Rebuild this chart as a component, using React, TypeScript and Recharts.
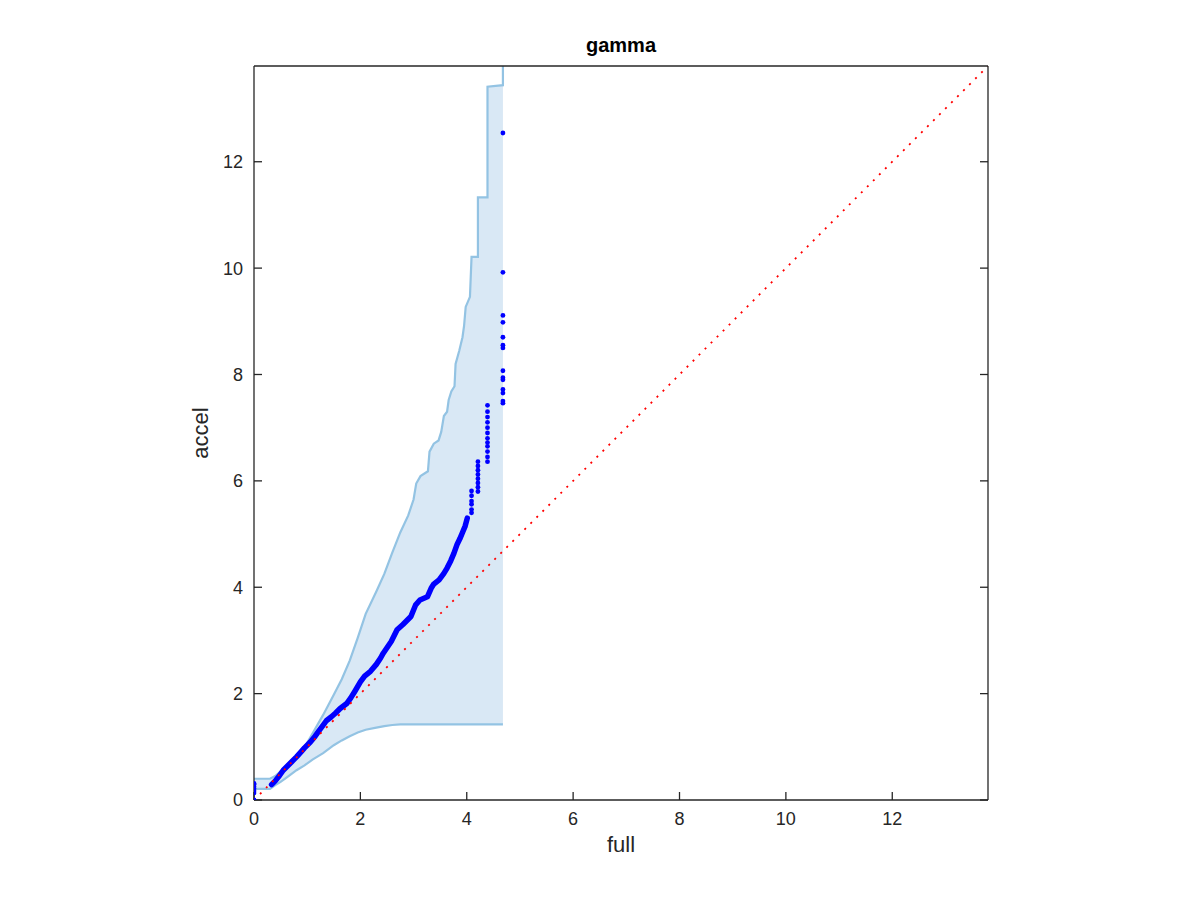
import { ComposedChart, Area, Line, Scatter, XAxis, YAxis } from 'recharts';

const AXIS_MAX = 13.8;
const TICKS = [0, 2, 4, 6, 8, 10, 12];

// confidence band (x, lower bound, upper bound)
const bandX = [
  0, 0.3, 0.4, 0.5, 0.65, 0.8, 0.95, 1.1, 1.3, 1.5, 1.65, 1.8, 1.95, 2.1, 2.3, 2.45, 2.6, 2.75,
  2.9, 3.0, 3.05, 3.13, 3.27, 3.3, 3.38, 3.47, 3.52, 3.57, 3.63, 3.66, 3.71, 3.77, 3.79, 3.86,
  3.92, 3.95, 3.98, 4.06, 4.09, 4.21, 4.21, 4.39, 4.39, 4.68, 4.68,
];
const bandLo = [
  0.21, 0.21, 0.28, 0.34, 0.45, 0.56, 0.65, 0.76, 0.88, 1.03, 1.12, 1.2, 1.27, 1.32, 1.36, 1.39,
  1.41, 1.42, 1.42, 1.42, 1.42, 1.42, 1.42, 1.42, 1.42, 1.42, 1.42, 1.42, 1.42, 1.42, 1.42, 1.42,
  1.42, 1.42, 1.42, 1.42, 1.42, 1.42, 1.42, 1.42, 1.42, 1.42, 1.42, 1.42, 1.42,
];
const bandHi = [
  0.4, 0.4, 0.45, 0.54, 0.66, 0.8, 0.99, 1.25, 1.6, 1.98, 2.27, 2.62, 3.05, 3.5, 3.92, 4.25,
  4.65, 5.03, 5.35, 5.65, 5.95, 6.09, 6.18, 6.55, 6.7, 6.76, 6.92, 7.22, 7.3, 7.52, 7.68, 7.78,
  8.2, 8.45, 8.7, 8.92, 9.27, 9.46, 10.21, 10.21, 11.33, 11.33, 13.41, 13.44, 13.8,
];

// dense part of the quantile curve
const curveX = [
  0.33, 0.4, 0.48, 0.55, 0.62, 0.7, 0.8, 0.88, 0.95, 1.06, 1.15, 1.22, 1.28, 1.36, 1.45, 1.53,
  1.62, 1.75, 1.82, 1.9, 2.0, 2.08, 2.19, 2.3, 2.38, 2.43, 2.58, 2.69, 2.8, 2.95, 3.04, 3.12,
  3.26, 3.33, 3.38, 3.48, 3.57, 3.63, 3.7, 3.76, 3.82, 3.87, 3.92, 3.97, 4.01,
];
const curveY = [
  0.29, 0.36, 0.46, 0.56, 0.63, 0.71, 0.81, 0.9, 0.98, 1.09, 1.2, 1.3, 1.38, 1.49, 1.56, 1.63,
  1.72, 1.82, 1.92, 2.05, 2.22, 2.33, 2.42, 2.55, 2.67, 2.76, 2.98, 3.2, 3.3, 3.45, 3.67, 3.76,
  3.82, 3.98, 4.06, 4.14, 4.26, 4.36, 4.5, 4.64, 4.81, 4.91, 5.03, 5.15, 5.3,
];

// tied quantiles stacked at one x
const stacks = [
  { x: 0, ys: [0, 0.13, 0.17, 0.21, 0.25, 0.29, 0.31] },
  { x: 4.09, ys: [5.4, 5.46, 5.56, 5.62, 5.72, 5.81] },
  { x: 4.21, ys: [5.8, 5.88, 5.96, 6.04, 6.12, 6.2, 6.28, 6.36] },
  { x: 4.39, ys: [6.36, 6.45, 6.55, 6.65, 6.72, 6.8, 6.9, 7.0, 7.1, 7.2, 7.3, 7.42] },
  { x: 4.68, ys: [7.46, 7.5, 7.65, 7.72, 7.9, 7.94, 8.07, 8.5, 8.55, 8.7, 8.98, 9.11, 9.92, 12.54] },
];

const bandData = bandX.map((x, i) => ({ x, band: [bandLo[i], bandHi[i]] }));
const curveData = curveX.map((x, i) => ({ x, y: curveY[i] }));
const stackData = stacks.flatMap((s) => s.ys.map((y) => ({ x: s.x, y })));
const diagData = [
  { x: 0, y: 0 },
  { x: AXIS_MAX, y: AXIS_MAX },
];

const AXIS_COLOR = '#262626';
const FONT = '"Liberation Sans", Arial, Helvetica, sans-serif';
const tickStyle = { fontSize: 18, fill: AXIS_COLOR, fontFamily: FONT };
const axisLine = { stroke: AXIS_COLOR, strokeWidth: 1.3 };
const tickLine = { stroke: AXIS_COLOR, strokeWidth: 1.3 };
const blank = () => '';

const Dot = (p: any) => <circle cx={p.cx} cy={p.cy} r={2.4} fill="#0000ff" />;

export default function App() {
  return (
    <div style={{ width: 1184, height: 884, fontFamily: FONT }}>
      <ComposedChart
        width={1184}
        height={884}
        margin={{ top: 48, right: 194, bottom: 56, left: 186 }}
      >
        <XAxis
          xAxisId="b"
          dataKey="x"
          type="number"
          domain={[0, AXIS_MAX]}
          ticks={TICKS}
          allowDataOverflow
          height={36}
          tickSize={-8}
          tickMargin={20}
          tick={tickStyle}
          axisLine={axisLine}
          tickLine={tickLine}
          label={{
            value: 'full',
            position: 'bottom',
            offset: 0,
            style: { fontSize: 22, fill: AXIS_COLOR, fontFamily: FONT },
          }}
        />
        <XAxis
          xAxisId="t"
          orientation="top"
          type="number"
          domain={[0, AXIS_MAX]}
          ticks={TICKS}
          allowDataOverflow
          height={10}
          tickSize={-8}
          tickFormatter={blank}
          axisLine={axisLine}
          tickLine={tickLine}
          label={{
            value: 'gamma',
            position: 'top',
            offset: 4,
            style: { fontSize: 20, fontWeight: 'bold', fill: '#000', fontFamily: FONT },
          }}
        />
        <YAxis
          yAxisId="l"
          type="number"
          domain={[0, AXIS_MAX]}
          ticks={TICKS}
          allowDataOverflow
          width={60}
          tickSize={-8}
          tickMargin={19}
          tick={tickStyle}
          axisLine={axisLine}
          tickLine={tickLine}
          label={{
            value: 'accel',
            angle: -90,
            position: 'insideLeft',
            offset: 6,
            style: { fontSize: 22, fill: AXIS_COLOR, fontFamily: FONT, textAnchor: 'middle' },
          }}
        />
        <YAxis
          yAxisId="r"
          orientation="right"
          type="number"
          domain={[0, AXIS_MAX]}
          ticks={TICKS}
          allowDataOverflow
          width={10}
          tickSize={-8}
          tickFormatter={blank}
          axisLine={axisLine}
          tickLine={tickLine}
        />
        <Area
          xAxisId="b"
          yAxisId="l"
          data={bandData}
          dataKey="band"
          type="linear"
          fill="#d9e8f5"
          fillOpacity={1}
          stroke="#93c3e3"
          strokeWidth={2.2}
          isAnimationActive={false}
        />
        <Line
          xAxisId="b"
          yAxisId="l"
          data={curveData}
          dataKey="y"
          type="linear"
          stroke="#0000ff"
          strokeWidth={5.5}
          strokeLinecap="round"
          strokeLinejoin="round"
          dot={false}
          isAnimationActive={false}
        />
        <Scatter
          xAxisId="b"
          yAxisId="l"
          data={stackData}
          dataKey="y"
          shape={Dot}
          isAnimationActive={false}
        />
        <Line
          xAxisId="b"
          yAxisId="l"
          data={diagData}
          dataKey="y"
          type="linear"
          stroke="#ff0000"
          strokeWidth={1.8}
          strokeDasharray="2 6.5"
          dot={false}
          isAnimationActive={false}
        />
      </ComposedChart>
    </div>
  );
}
